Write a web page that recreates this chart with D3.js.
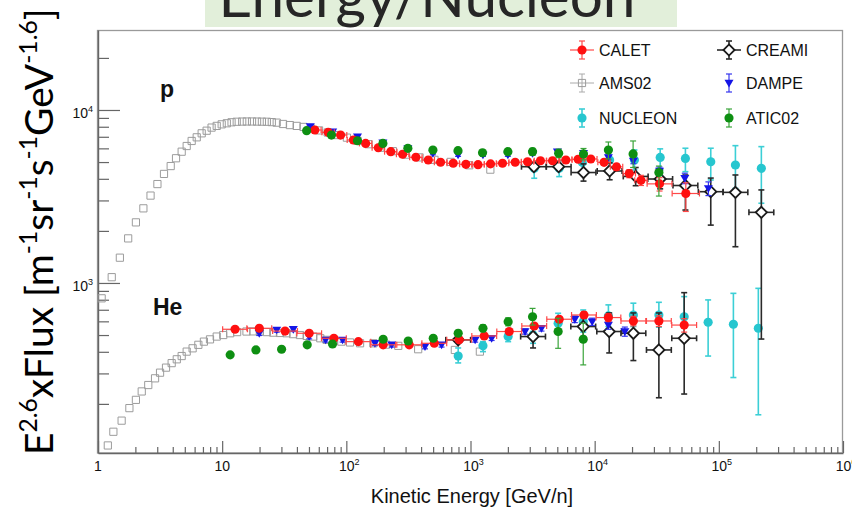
<!DOCTYPE html>
<html>
<head>
<meta charset="utf-8">
<script src="https://cdn.jsdelivr.net/npm/d3@7"></script>
<style>
body { margin: 0; background: #fff; }
svg { display: block; font-family: "Liberation Sans", Arial, sans-serif; }
</style>
</head>
<body>
<div id="app"></div>
<script>
// ---- data (E in GeV/n, F = E^2.6 x flux) ----
const amsP_E = [1.07, 1.29, 1.50, 1.75, 2.02, 2.32, 2.65, 3.01, 3.40, 3.85, 4.25, 4.72, 5.18, 5.68, 6.24, 6.84, 7.50, 8.22, 9.04, 9.91, 10.9, 11.9, 13.1, 14.5, 15.8, 17.4, 19.1, 20.9, 22.9, 25.1, 27.5, 30.9, 35.1, 39.8, 45.2, 51.9, 60.3, 70.8, 84.1, 101, 123, 151, 188, 237, 302, 389, 513, 692, 977, 1445];
const amsP_F = [815, 1080, 1400, 1810, 2240, 2700, 3200, 3730, 4270, 4740, 5260, 5740, 6190, 6620, 6950, 7330, 7590, 7910, 8090, 8260, 8380, 8490, 8550, 8570, 8580, 8580, 8570, 8560, 8550, 8510, 8450, 8300, 8180, 8090, 7980, 7820, 7620, 7410, 7160, 6920, 6640, 6340, 6050, 5780, 5520, 5320, 5150, 5010, 4790, 4520];

const amsHe_E = [1.20, 1.33, 1.55, 1.79, 2.02, 2.25, 2.54, 2.88, 3.16, 3.53, 3.92, 4.31, 4.72, 5.18, 5.78, 6.43, 7.13, 7.98, 9.04, 10.2, 11.6, 13.2, 15.7, 17.8, 20.1, 22.9, 25.8, 29.2, 33.0, 37.3, 42.3, 47.9, 54.1, 61.7, 69.3, 79.4, 91.2, 107, 129, 165, 209, 262, 379, 748, 1190];
const amsHe_F = [115, 138, 160, 189, 211, 236, 257, 281, 303, 324, 344, 362, 378, 401, 419, 439, 458, 472, 490, 500, 512, 520, 524, 525, 524, 520, 516, 514, 512, 506, 500, 494, 490, 479, 469, 462, 458, 453, 448, 448, 440, 433, 414, 410, 401];

const calP_E = [55.8, 71.4, 89.9, 114, 143, 181, 228, 284, 363, 457, 574, 726, 918, 1150, 1450, 1810, 2290, 2880, 3660, 4580, 5860, 7360, 9310, 11900, 15000, 19000, 23600, 33300, 54200];
const calP_F = [7660, 7430, 7160, 6710, 6410, 6050, 5740, 5550, 5330, 5140, 4990, 4920, 4850, 4830, 4880, 4920, 4990, 5020, 5090, 5090, 5140, 5190, 5210, 4980, 4690, 4290, 3920, 3740, 3290];
const calP_lo = [7500, 7280, 7020, 6580, 6280, 5930, 5630, 5440, 5220, 5040, 4890, 4820, 4750, 4730, 4780, 4820, 4890, 4920, 4980, 4970, 5010, 5050, 5050, 4800, 4480, 4060, 3660, 3400, 2590];
const calP_hi = [7820, 7580, 7300, 6840, 6540, 6170, 5850, 5660, 5440, 5240, 5090, 5020, 4950, 4930, 4980, 5020, 5090, 5120, 5200, 5210, 5270, 5330, 5370, 5160, 4900, 4520, 4190, 4060, 3790];
const calP_dex = [0.05, 0.05, 0.05, 0.05, 0.05, 0.05, 0.05, 0.05, 0.05, 0.05, 0.05, 0.05, 0.05, 0.05, 0.05, 0.05, 0.05, 0.05, 0.05, 0.05, 0.05, 0.05, 0.05, 0.05, 0.05, 0.05, 0.05, 0.1, 0.11];

const calHe_E = [12.7, 19.9, 32.1, 50.2, 79.4, 125, 198, 321, 511, 811, 1290, 2050, 3260, 5180, 8200, 12900, 20500, 32900, 52600];
const calHe_F = [540, 547, 527, 512, 479, 458, 439, 439, 448, 469, 494, 524, 564, 617, 653, 631, 603, 603, 571];
const calHe_lo = [530, 537, 517, 502, 470, 449, 430, 430, 439, 459, 482, 510, 548, 595, 625, 598, 565, 560, 520];
const calHe_hi = [550, 557, 537, 522, 488, 467, 448, 448, 457, 479, 506, 538, 580, 639, 681, 664, 641, 646, 622];
const calHe_dex = [0.1, 0.1, 0.1, 0.1, 0.1, 0.1, 0.1, 0.1, 0.1, 0.1, 0.1, 0.1, 0.1, 0.1, 0.1, 0.1, 0.1, 0.1, 0.1];

const damP_E = [51.3, 77.6, 123, 197, 313, 498, 794, 1260, 2000, 3160, 5010, 8130, 12900, 20500, 33300, 53200, 82400];
const damP_F = [8020, 7500, 7010, 6460, 6000, 5620, 5500, 5500, 5500, 5620, 5740, 5620, 5320, 5080, 4440, 4030, 3520];
const damP_lo = [7860, 7350, 6870, 6330, 5880, 5510, 5390, 5390, 5390, 5500, 5610, 5470, 5150, 4890, 4200, 3750, 3200];
const damP_hi = [8180, 7650, 7150, 6590, 6120, 5730, 5610, 5610, 5610, 5740, 5870, 5770, 5490, 5270, 4680, 4310, 3840];

const damHe_E = [19.9, 27.5, 37.4, 50.2, 68.1, 93.3, 170, 232, 430, 585, 1090, 1480, 2750, 3730, 6920, 9550, 12900, 17500];
const damHe_F = [512, 535, 540, 490, 469, 469, 448, 439, 429, 439, 469, 479, 524, 547, 617, 597, 571, 524];
const damHe_lo = [497, 519, 524, 475, 455, 455, 435, 426, 416, 426, 455, 465, 506, 527, 590, 568, 540, 492];
const damHe_hi = [527, 551, 556, 505, 483, 483, 461, 452, 442, 452, 483, 493, 542, 567, 644, 626, 602, 556];

const atiP_E = [47.9, 75.9, 123, 197, 313, 498, 793, 1250, 2000, 3160, 5130, 8130, 12900, 20400, 32900];
const atiP_F = [7590, 7160, 6640, 6410, 6000, 5870, 5820, 5660, 5740, 5740, 5620, 5570, 5870, 5570, 4350];
const atiP_lo = [7400, 6980, 6470, 6250, 5840, 5700, 5630, 5460, 5510, 5480, 5300, 5150, 5210, 4650, 3180];
const atiP_hi = [7780, 7340, 6810, 6570, 6160, 6040, 6010, 5860, 5970, 6000, 5940, 5990, 6530, 6620, 4740];

const atiHe_E = [11.6, 18.7, 30.1, 48.4, 77.4, 198, 315, 501, 796, 1260, 2010, 3160, 5080, 8090];
const atiHe_F = [384, 410, 414, 439, 444, 473, 462, 479, 512, 547, 597, 638, 524, 473];
const atiHe_lo = [376, 402, 405, 430, 434, 461, 449, 463, 492, 522, 565, 571, 419, 336];
const atiHe_hi = [392, 418, 423, 448, 454, 485, 475, 495, 532, 572, 629, 713, 625, 585];

const nucP_E = [3260, 5180, 7940, 13200, 20900, 33700, 53800, 86100, 136000, 220000];
const nucP_F = [4600, 4600, 4980, 5140, 5140, 5320, 5250, 5020, 4810, 4600];
const nucP_lo = [4030, 4120, 4450, 4500, 4500, 4500, 4400, 3940, 3520, 2890];
const nucP_hi = [5020, 5090, 5600, 5900, 5870, 5960, 6010, 6010, 6220, 6140];

const nucHe_E = [796, 1260, 2010, 3190, 5080, 8090, 12900, 20500, 32900, 52600, 82000, 131000, 208000];
const nucHe_F = [378, 433, 490, 500, 585, 597, 645, 653, 653, 638, 593, 577, 547];
const nucHe_lo = [345, 401, 458, 448, 520, 520, 560, 560, 555, 500, 378, 284, 173];
const nucHe_hi = [421, 458, 524, 524, 668, 698, 747, 764, 773, 834, 798, 871, 931];

const crmP_E = [3240, 5130, 8130, 13200, 21400, 33700, 53800, 86100, 136000, 220000];
const crmP_F = [4700, 4700, 4350, 4440, 4130, 3990, 3660, 3370, 3340, 2560];
const crmP_lo = [4550, 4550, 3880, 3950, 3650, 3500, 2640, 2160, 1620, 474];
const crmP_hi = [4850, 4850, 4880, 4950, 4650, 4500, 4210, 4040, 4210, 3450];
const crmP_dex = [0.1, 0.1, 0.1, 0.1, 0.1, 0.1, 0.1, 0.1, 0.1, 0.1];

const crmHe_E = [796, 3190, 8090, 13100, 20500, 32900, 52600];
const crmHe_F = [469, 490, 560, 524, 512, 410, 479];
const crmHe_lo = [455, 421, 490, 394, 356, 217, 228];
const crmHe_hi = [483, 550, 640, 671, 671, 671, 879];
const crmHe_dex = [0.1, 0.1, 0.1, 0.1, 0.1, 0.1, 0.1];

const xMajor = [1, 10, 100, 1e3, 1e4, 1e5, 1e6];
const xTickBase = ["1", "10", "10", "10", "10", "10", "10"];
const xTickSup = ["", "", "2", "3", "4", "5", "6"];
const yMajor = [1e3, 1e4];
const yTickSup = ["3", "4"];
const legendNames = ["CALET", "CREAMI", "AMS02", "DAMPE", "NUCLEON", "ATIC02"];

// ---- layout ----
const w = 852, h = 512;
const svg = d3.select("#app")
    .append("svg")
    .attr("width", w)
    .attr("height", h)
    .style("background-color", "#fff");

const xScale = d3.scaleLog().domain([1, 1e6]).range([98, 843]);
const yScale = d3.scaleLog().domain([104, 29000]).range([453, 30]);

// frame
svg.append("rect")
    .attr("x", 97.5).attr("y", 30.5)
    .attr("width", 745).attr("height", 422.5)
    .attr("fill", "none")
    .attr("stroke", "#9a9a9a")
    .attr("stroke-width", 1.3);

// minor tick positions (2..9 per decade)
const xMinor = [];
d3.range(0, 6).forEach(d => { for (let k = 2; k < 10; k++) xMinor.push(k * Math.pow(10, d)); });
const yMinor = [];
[100, 1000, 10000].forEach(d => { for (let k = 2; k < 10; k++) if (k * d < 29000) yMinor.push(k * d); });

function styleAxis(g) {
    g.selectAll("path").attr("stroke", "#666").attr("stroke-width", 1.4);
    g.selectAll("line").attr("stroke", "#666").attr("stroke-width", 1.2);
}

svg.append("g")
    .attr("transform", "translate(0,453)")
    .call(d3.axisBottom(xScale).tickValues(xMajor).tickSize(-12).tickSizeOuter(0).tickFormat(""))
    .call(styleAxis);
svg.append("g")
    .attr("transform", "translate(0,453)")
    .call(d3.axisBottom(xScale).tickValues(xMinor).tickSize(-6).tickSizeOuter(0).tickFormat(""))
    .call(styleAxis)
    .select(".domain").remove();
svg.append("g")
    .attr("transform", "translate(98,0)")
    .call(d3.axisLeft(yScale).tickValues(yMajor).tickSize(-22).tickSizeOuter(0).tickFormat(""))
    .call(styleAxis);
svg.append("g")
    .attr("transform", "translate(98,0)")
    .call(d3.axisLeft(yScale).tickValues(yMinor).tickSize(-11).tickSizeOuter(0).tickFormat(""))
    .call(styleAxis)
    .select(".domain").remove();

// tick labels with superscripts
xMajor.forEach((v, i) => {
    const t = svg.append("text")
        .attr("x", xScale(v) + (xTickSup[i] ? 3 : 0))
        .attr("y", 471)
        .attr("text-anchor", "middle")
        .attr("font-size", 14)
        .attr("fill", "#111");
    t.append("tspan").text(xTickBase[i]);
    if (xTickSup[i]) t.append("tspan").attr("dy", -6).attr("font-size", 9).text(xTickSup[i]);
});
yMajor.forEach((v, i) => {
    const t = svg.append("text")
        .attr("x", 93)
        .attr("y", yScale(v) + 8)
        .attr("text-anchor", "end")
        .attr("font-size", 14)
        .attr("fill", "#111");
    t.append("tspan").text("10");
    t.append("tspan").attr("dy", -6).attr("font-size", 9).text(yTickSup[i]);
});

svg.append("text")
    .attr("x", 472).attr("y", 503)
    .attr("text-anchor", "middle")
    .attr("font-size", 20)
    .attr("fill", "#111")
    .text("Kinetic Energy [GeV/n]");

svg.append("text").attr("x", 160).attr("y", 97)
    .attr("font-size", 23).attr("font-weight", "bold").attr("fill", "#111").text("p");
svg.append("text").attr("x", 153).attr("y", 315)
    .attr("font-size", 23).attr("font-weight", "bold").attr("fill", "#111").text("He");

// ---- marker shapes ----
const shapes = {
    circle: d3.symbol().type(d3.symbolCircle).size(66)(),
    square: "M-3.6,-3.6H3.6V3.6H-3.6Z",
    tri: "M-4.5,-3.2H4.5L0,4.4Z",
    diamond: "M0,-5.6L5.6,0L0,5.6L-5.6,0Z"
};
const styles = {
    CALET: { shape: "circle", fill: "#ff1010", stroke: "none", err: "#ff4848", ew: 1.2 },
    CREAMI: { shape: "diamond", fill: "#fff", stroke: "#1a1a1a", err: "#2a2a2a", ew: 1.6 },
    AMS02: { shape: "square", fill: "none", stroke: "#9c9c9c", err: "#aaa", ew: 1 },
    DAMPE: { shape: "tri", fill: "#1515e6", stroke: "none", err: "#3535ee", ew: 1.2 },
    NUCLEON: { shape: "circle", fill: "#26c6cf", stroke: "none", err: "#3ccfd6", ew: 1.6 },
    ATIC02: { shape: "circle", fill: "#0e8f12", stroke: "none", err: "#3aa43a", ew: 1.2 }
};

function drawSeries(name, E, F, lo, hi, dex) {
    const st = styles[name];
    const pts = E.map((e, i) => ({
        E: e, F: F[i],
        lo: lo ? lo[i] : null, hi: hi ? hi[i] : null,
        dex: dex ? dex[i] : null
    }));
    const g = svg.append("g").attr("class", name);
    const xe = pts.filter(d => d.dex != null);
    const ye = pts.filter(d => d.lo != null);

    g.selectAll(".xe").data(xe).join("line").attr("class", "xe")
        .attr("x1", d => xScale(d.E / Math.pow(10, d.dex)))
        .attr("x2", d => xScale(d.E * Math.pow(10, d.dex)))
        .attr("y1", d => yScale(d.F)).attr("y2", d => yScale(d.F))
        .attr("stroke", st.err).attr("stroke-width", st.ew);
    ["l", "r"].forEach(side => {
        g.selectAll(".xc" + side).data(xe).join("line").attr("class", "xc" + side)
            .attr("x1", d => xScale(side == "l" ? d.E / Math.pow(10, d.dex) : d.E * Math.pow(10, d.dex)))
            .attr("x2", d => xScale(side == "l" ? d.E / Math.pow(10, d.dex) : d.E * Math.pow(10, d.dex)))
            .attr("y1", d => yScale(d.F) - 3).attr("y2", d => yScale(d.F) + 3)
            .attr("stroke", st.err).attr("stroke-width", st.ew);
    });
    g.selectAll(".ye").data(ye).join("line").attr("class", "ye")
        .attr("x1", d => xScale(d.E)).attr("x2", d => xScale(d.E))
        .attr("y1", d => yScale(d.lo)).attr("y2", d => yScale(d.hi))
        .attr("stroke", st.err).attr("stroke-width", st.ew);
    ["lo", "hi"].forEach(k => {
        g.selectAll(".yc" + k).data(ye).join("line").attr("class", "yc" + k)
            .attr("x1", d => xScale(d.E) - 3).attr("x2", d => xScale(d.E) + 3)
            .attr("y1", d => yScale(d[k])).attr("y2", d => yScale(d[k]))
            .attr("stroke", st.err).attr("stroke-width", st.ew);
    });
    g.selectAll(".pt").data(pts).join("path").attr("class", "pt")
        .attr("d", shapes[st.shape])
        .attr("transform", d => "translate(" + xScale(d.E) + "," + yScale(d.F) + ")")
        .attr("fill", st.fill)
        .attr("stroke", st.stroke)
        .attr("stroke-width", st.shape == "diamond" ? 1.8 : 1);
}

drawSeries("AMS02", amsP_E, amsP_F);
drawSeries("AMS02", amsHe_E, amsHe_F);
drawSeries("NUCLEON", nucP_E, nucP_F, nucP_lo, nucP_hi);
drawSeries("NUCLEON", nucHe_E, nucHe_F, nucHe_lo, nucHe_hi);
drawSeries("CREAMI", crmP_E, crmP_F, crmP_lo, crmP_hi, crmP_dex);
drawSeries("CREAMI", crmHe_E, crmHe_F, crmHe_lo, crmHe_hi, crmHe_dex);
drawSeries("DAMPE", damP_E, damP_F, damP_lo, damP_hi);
drawSeries("DAMPE", damHe_E, damHe_F, damHe_lo, damHe_hi);
drawSeries("CALET", calP_E, calP_F, calP_lo, calP_hi, calP_dex);
drawSeries("CALET", calHe_E, calHe_F, calHe_lo, calHe_hi, calHe_dex);
drawSeries("ATIC02", atiP_E, atiP_F, atiP_lo, atiP_hi);
drawSeries("ATIC02", atiHe_E, atiHe_F, atiHe_lo, atiHe_hi);

// ---- legend ----
const legend = svg.append("g").attr("id", "legend");
legendNames.forEach((name, i) => {
    const st = styles[name];
    const cx = i % 2 == 0 ? 582 : 729;
    const cy = [50, 83, 118][Math.floor(i / 2)];
    const item = legend.append("g").attr("transform", "translate(" + cx + "," + cy + ")");
    if (name == "CALET" || name == "CREAMI" || name == "AMS02") {
        item.append("line").attr("x1", -12).attr("x2", 12).attr("y1", 0).attr("y2", 0)
            .attr("stroke", st.err).attr("stroke-width", st.ew);
    }
    item.append("line").attr("x1", 0).attr("x2", 0).attr("y1", -9).attr("y2", 9)
        .attr("stroke", st.err).attr("stroke-width", st.ew);
    [-9, 9].forEach(yy => item.append("line").attr("x1", -3).attr("x2", 3).attr("y1", yy).attr("y2", yy)
        .attr("stroke", st.err).attr("stroke-width", st.ew));
    item.append("path").attr("d", shapes[st.shape])
        .attr("fill", st.fill).attr("stroke", st.stroke)
        .attr("stroke-width", st.shape == "diamond" ? 1.8 : 1);
    item.append("text").attr("x", 17).attr("y", 6)
        .attr("font-size", 16).attr("fill", "#111").text(name);
});

// ---- y title (rotated, with superscripts) ----
const yParts = [["E", 0], ["2.6", 1], ["xFlux [m", 0], ["-1", 1], ["sr", 0], ["-1", 1], ["s", 0], ["-1", 1], ["GeV", 0], ["-1.6", 1], ["]", 0]];
const yTitle = svg.append("g");
const yText = yTitle.append("text")
    .attr("font-family", "Lato, 'Open Sans', sans-serif")
    .attr("font-size", 30)
    .attr("fill", "#000");
let up = false;
yParts.forEach(p => {
    const sp = yText.append("tspan").text(p[0]);
    if (p[1] && !up) { sp.attr("dy", -12).attr("font-size", 19); up = true; }
    else if (p[1]) { sp.attr("font-size", 19); }
    else if (up) { sp.attr("dy", 12); up = false; }
});
const yLen = yText.node().getBBox().width;
yTitle.attr("transform", "translate(53,455) rotate(-90) scale(" + (447 / yLen) + ")");

// ---- banner on top ----
svg.append("rect")
    .attr("x", 205).attr("y", 0)
    .attr("width", 472).attr("height", 27)
    .attr("fill", "#e2efda");
const bText = svg.append("text")
    .attr("x", 427).attr("y", 17)
    .attr("text-anchor", "middle")
    .attr("font-family", "Lato, 'Open Sans', sans-serif")
    .attr("font-size", 48)
    .attr("fill", "#262626")
    .text("Energy/Nucleon");
const bLen = bText.node().getComputedTextLength();
bText.attr("font-size", 48 * 417 / bLen);
</script>
</body>
</html>
